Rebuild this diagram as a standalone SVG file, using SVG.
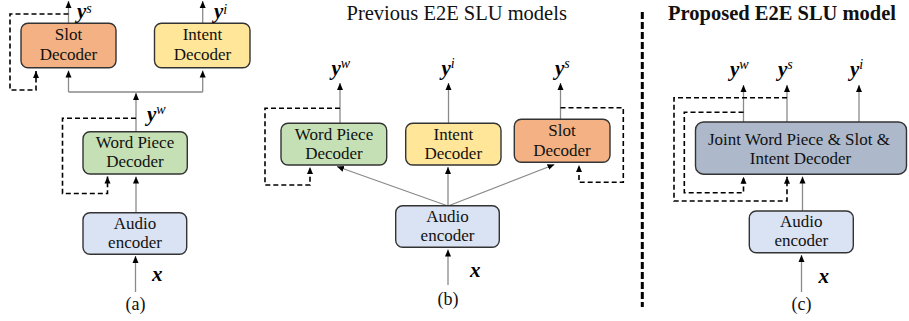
<svg xmlns="http://www.w3.org/2000/svg" width="909" height="321" viewBox="0 0 909 321">
<style>
.bx{stroke:#333;stroke-width:1.4}
.slot{fill:#F4B183}.intent{fill:#FFE699}.wp{fill:#C5E0B4}.audio{fill:#DAE3F3}.joint{fill:#ADB9CA}
.t{font-family:"Liberation Serif","Times New Roman",serif;font-size:17px;fill:#111;text-anchor:middle}
.m{font-family:"Liberation Serif","Times New Roman",serif;font-size:21px;font-weight:bold;font-style:italic;fill:#000}
.sup{font-size:14px;font-weight:normal}
.cap{font-family:"Liberation Serif","Times New Roman",serif;font-size:18px;fill:#111;text-anchor:middle}
.ttl{font-family:"Liberation Serif","Times New Roman",serif;font-size:20.5px;fill:#111}
.sol{fill:none;stroke:#8a8a8a;stroke-width:1.3}
.dsh{fill:none;stroke:#000;stroke-width:1.6;stroke-dasharray:5 3}
</style>
<defs>
<marker id="ah" viewBox="0 0 10 10" refX="10" refY="5" markerWidth="7" markerHeight="7" markerUnits="userSpaceOnUse" orient="auto"><path d="M0,0.7 L10,5 L0,9.3 z" fill="#000"/></marker>
</defs>

<!-- titles -->
<text class="ttl" x="456.7" y="20" text-anchor="middle">Previous E2E SLU models</text>
<text class="ttl" x="668" y="20" font-weight="bold">Proposed E2E SLU model</text>

<g id="connectors">
<!-- (a) -->
<path class="sol" d="M68.5,23 V1" marker-end="url(#ah)"/>
<path class="sol" d="M202.7,23 V1" marker-end="url(#ah)"/>
<path class="dsh" d="M68.5,14 H10 V90 H36 V71" marker-end="url(#ah)"/>
<path class="sol" d="M136,132 V93" marker-end="url(#ah)"/>
<path class="sol" d="M68.5,92 H202.7"/>
<path class="sol" d="M68.5,92 V70.5" marker-end="url(#ah)"/>
<path class="sol" d="M202.7,92 V70.5" marker-end="url(#ah)"/>
<path class="dsh" d="M136,118.3 H62.5 V193.5 H107.5 V176.5" marker-end="url(#ah)"/>
<path class="sol" d="M136,213 V176.5" marker-end="url(#ah)"/>
<path class="sol" d="M135.5,292 V256" marker-end="url(#ah)"/>
<!-- (b) -->
<path class="sol" d="M340,123 V83" marker-end="url(#ah)"/>
<path class="sol" d="M448.5,123 V83" marker-end="url(#ah)"/>
<path class="sol" d="M560.5,119.5 V83" marker-end="url(#ah)"/>
<path class="dsh" d="M340,108.3 H265 V185 H310 V167" marker-end="url(#ah)"/>
<path class="dsh" d="M560.5,107.7 H623.3 V182.3 H579 V165" marker-end="url(#ah)"/>
<path class="sol" d="M448,206 L337,166.5" marker-end="url(#ah)"/>
<path class="sol" d="M448,206 V167" marker-end="url(#ah)"/>
<path class="sol" d="M448,206 L554.5,164.5" marker-end="url(#ah)"/>
<path class="sol" d="M448,285 V249.5" marker-end="url(#ah)"/>
<!-- (c) -->
<path d="M642.3,12 V307" fill="none" stroke="#000" stroke-width="3" stroke-dasharray="7 3"/>
<path class="sol" d="M743.5,122 V85" marker-end="url(#ah)"/>
<path class="sol" d="M787,122 V85" marker-end="url(#ah)"/>
<path class="sol" d="M859,122 V85" marker-end="url(#ah)"/>
<path class="dsh" d="M787,97.7 H674 V201 H787 V176.7" marker-end="url(#ah)"/>
<path class="dsh" d="M743.5,112.3 H684.3 V192.7 H743.5 V176.7" marker-end="url(#ah)"/>
<path class="sol" d="M802.5,211 V176.5" marker-end="url(#ah)"/>
<path class="sol" d="M801.5,292 V255" marker-end="url(#ah)"/>
</g>

<!-- (a) nodes -->
<g id="a-slot"><rect class="bx slot" x="21" y="23.3" width="95" height="44.5" rx="7"/><text class="t" x="68.5" y="40">Slot</text><text class="t" x="68.5" y="60">Decoder</text></g>
<g id="a-intent"><rect class="bx intent" x="154.5" y="23.3" width="95.5" height="44.5" rx="7"/><text class="t" x="202.5" y="40">Intent</text><text class="t" x="202.5" y="60">Decoder</text></g>
<g id="a-wp"><rect class="bx wp" x="83" y="131.7" width="104.3" height="42.3" rx="7"/><text class="t" x="135" y="147.5">Word Piece</text><text class="t" x="135" y="167">Decoder</text></g>
<g id="a-audio"><rect class="bx audio" x="83" y="212.7" width="103.7" height="41.6" rx="7"/><text class="t" x="135" y="228.5">Audio</text><text class="t" x="135" y="247.5">encoder</text></g>
<text class="m" x="77" y="18" font-size="20">y<tspan class="sup" dy="-5">s</tspan></text>
<text class="m" x="214" y="18" font-size="20">y<tspan class="sup" dy="-4.5">i</tspan></text>
<text class="m" x="147" y="121">y<tspan class="sup" dy="-7">w</tspan></text>
<text class="m" x="152" y="281">x</text>
<text class="cap" x="135.5" y="309.5">(a)</text>

<!-- (b) nodes -->
<g id="b-wp"><rect class="bx wp" x="281" y="123.3" width="105.7" height="41.7" rx="7"/><text class="t" x="334" y="139.5">Word Piece</text><text class="t" x="334" y="159">Decoder</text></g>
<g id="b-intent"><rect class="bx intent" x="405.7" y="123.3" width="95.3" height="41.7" rx="7"/><text class="t" x="453.3" y="139.5">Intent</text><text class="t" x="453.3" y="159">Decoder</text></g>
<g id="b-slot"><rect class="bx slot" x="514.3" y="119.3" width="95.7" height="43" rx="7"/><text class="t" x="562" y="136">Slot</text><text class="t" x="562" y="156">Decoder</text></g>
<g id="b-audio"><rect class="bx audio" x="395.7" y="205.7" width="103.6" height="41.6" rx="7"/><text class="t" x="447.5" y="221.5">Audio</text><text class="t" x="447.5" y="240.5">encoder</text></g>
<text class="m" x="331.5" y="74.5">y<tspan class="sup" dy="-7">w</tspan></text>
<text class="m" x="441.5" y="74.5">y<tspan class="sup" dy="-7">i</tspan></text>
<text class="m" x="555" y="74.5">y<tspan class="sup" dy="-7">s</tspan></text>
<text class="m" x="470" y="276.5">x</text>
<text class="cap" x="448" y="305">(b)</text>

<!-- (c) nodes -->
<g id="c-joint"><rect class="bx joint" x="695.5" y="122" width="211" height="52.2" rx="8"/><text class="t" x="799" y="144.5">Joint Word Piece &amp; Slot &amp;</text><text class="t" x="800.5" y="163.5">Intent Decoder</text></g>
<g id="c-audio"><rect class="bx audio" x="749.3" y="211" width="104" height="41.7" rx="7"/><text class="t" x="801.3" y="227">Audio</text><text class="t" x="801.3" y="246">encoder</text></g>
<text class="m" x="730" y="76">y<tspan class="sup" dy="-7">w</tspan></text>
<text class="m" x="778" y="76">y<tspan class="sup" dy="-7">s</tspan></text>
<text class="m" x="850" y="76">y<tspan class="sup" dy="-7">i</tspan></text>
<text class="m" x="818.5" y="283">x</text>
<text class="cap" x="801.5" y="310">(c)</text>
</svg>
